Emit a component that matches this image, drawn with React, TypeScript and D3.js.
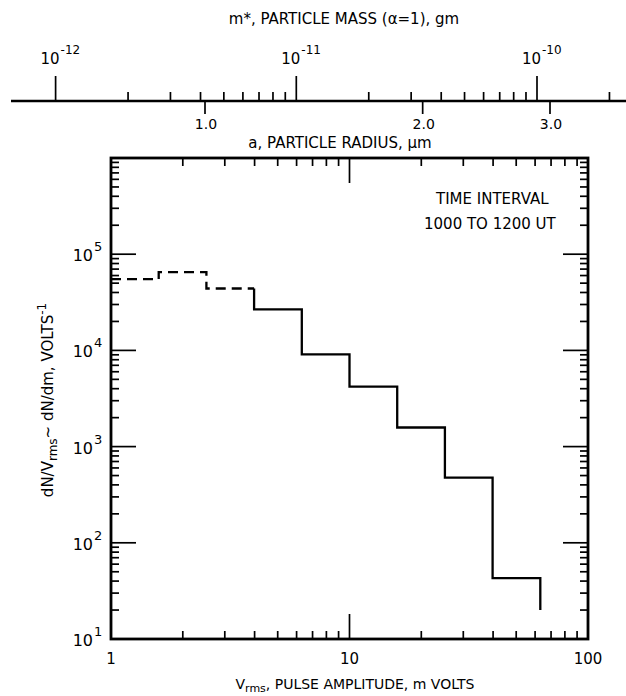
import React from 'react';
import * as d3 from 'd3';

// histogram bin edges (m volts) and heights (dN/Vrms, volts^-1)
const binEdges = [1, 1.585, 2.512, 3.981, 6.31, 10, 15.85, 25.12, 39.81, 63.1];
const binCounts = [5.5e4, 6.5e4, 4.4e4, 2.67e4, 9.1e3, 4.2e3, 1.58e3, 475, 43];
const dashedBins = 3; // first bins are drawn dashed
const lastDrop = 20; // where the final vertical stops

const xMajor = [1, 10, 100];
const xMajorLabels = ['1', '10', '100'];
const yMajor = [1e1, 1e2, 1e3, 1e4, 1e5, 1e6];
const yLabelExp = ['1', '2', '3', '4', '5'];

const massMajor = [1e-12, 1e-11, 1e-10];
const massLabelExp = ['-12', '-11', '-10'];
const radiusMajor = [1.0, 2.0, 3.0];
const radiusLabels = ['1.0', '2.0', '3.0'];

const FONT = '"DejaVu Sans", sans-serif';

export default function App() {
  const W = 626, H = 696;
  const left = 111, right = 588, top = 158, bottom = 639;

  const x = d3.scaleLog().domain([1, 100]).range([left, right]);
  const y = d3.scaleLog().domain([10, 1e6]).range([bottom, top]);

  // top auxiliary axis
  const axisY = 101;
  const mass = d3.scaleLog().domain([1e-12, 1e-10]).range([55.6, 537]);
  const radius = d3.scaleLog().domain([1, 3]).range([205, 550]);

  // minor ticks 2..9 in each decade
  const minors = (decades: number[]) => {
    const out: number[] = [];
    decades.forEach(d => { for (let m = 2; m <= 9; m++) out.push(m * d); });
    return out;
  };
  const xMinor = minors([1, 10]);
  const yMinor = minors([1e1, 1e2, 1e3, 1e4, 1e5]);
  const massMinor = minors([1e-12, 1e-11]).concat([2e-10]);

  const line = d3.line<[number, number]>().x(d => x(d[0])).y(d => y(d[1]));

  const dashedPts: [number, number][] = [];
  for (let i = 0; i < dashedBins; i++) {
    if (i > 0) dashedPts.push([binEdges[i], binCounts[i - 1]]);
    dashedPts.push([binEdges[i], binCounts[i]]);
    dashedPts.push([binEdges[i + 1], binCounts[i]]);
  }
  const solidPts: [number, number][] = [];
  for (let i = dashedBins; i < binCounts.length; i++) {
    solidPts.push([binEdges[i], binCounts[i - 1]]);
    solidPts.push([binEdges[i], binCounts[i]]);
    solidPts.push([binEdges[i + 1], binCounts[i]]);
  }
  solidPts.push([binEdges[binCounts.length], lastDrop]);

  const majLen = 25, minLen = 8;

  return (
    <svg width={W} height={H} style={{ position: 'absolute', left: 0, top: 0, background: '#fff' }}
      fontFamily={FONT} fill="#000">
      {/* ---------- top mass / radius axis ---------- */}
      <text x={344} y={24} fontSize={15} textAnchor="middle">m*, PARTICLE MASS (α=1), gm</text>
      <line x1={11} x2={626} y1={axisY} y2={axisY} stroke="#000" strokeWidth={2.6} />
      {massMajor.map((m, i) => (
        <g key={'mm' + i}>
          <line x1={mass(m)} x2={mass(m)} y1={axisY} y2={axisY - 25} stroke="#000" strokeWidth={1.7} />
          <text x={mass(m) + 4} y={64} fontSize={15} textAnchor="end">10</text>
          <text x={mass(m) + 5} y={54} fontSize={12}>{massLabelExp[i]}</text>
        </g>
      ))}
      {massMinor.map((m, i) => (
        <line key={'mn' + i} x1={mass(m)} x2={mass(m)} y1={axisY} y2={axisY - 9} stroke="#000" strokeWidth={1.7} />
      ))}
      {radiusMajor.map((r, i) => (
        <g key={'r' + i}>
          <line x1={radius(r)} x2={radius(r)} y1={axisY} y2={axisY + 13} stroke="#000" strokeWidth={1.7} />
          <text x={radius(r) + 1} y={129} fontSize={14} textAnchor="middle">{radiusLabels[i]}</text>
        </g>
      ))}
      <text x={340} y={148} fontSize={15} textAnchor="middle">a, PARTICLE RADIUS, μm</text>

      {/* ---------- frame ticks ---------- */}
      {xMajor.slice(1, 2).map((v, i) => (
        <g key={'xM' + i}>
          <line x1={x(v)} x2={x(v)} y1={bottom} y2={bottom - majLen} stroke="#000" strokeWidth={1.7} />
          <line x1={x(v)} x2={x(v)} y1={top} y2={top + majLen} stroke="#000" strokeWidth={1.7} />
        </g>
      ))}
      {xMinor.map((v, i) => (
        <g key={'xm' + i}>
          <line x1={x(v)} x2={x(v)} y1={bottom} y2={bottom - minLen} stroke="#000" strokeWidth={1.7} />
          <line x1={x(v)} x2={x(v)} y1={top} y2={top + minLen} stroke="#000" strokeWidth={1.7} />
        </g>
      ))}
      {yMajor.slice(1, -1).map((v, i) => (
        <g key={'yM' + i}>
          <line x1={left} x2={left + majLen} y1={y(v)} y2={y(v)} stroke="#000" strokeWidth={1.7} />
          <line x1={right} x2={right - majLen} y1={y(v)} y2={y(v)} stroke="#000" strokeWidth={1.7} />
        </g>
      ))}
      {yMinor.map((v, i) => (
        <g key={'ym' + i}>
          <line x1={left} x2={left + minLen} y1={y(v)} y2={y(v)} stroke="#000" strokeWidth={1.7} />
          <line x1={right} x2={right - minLen} y1={y(v)} y2={y(v)} stroke="#000" strokeWidth={1.7} />
        </g>
      ))}
      <rect x={left} y={top} width={right - left} height={bottom - top} fill="none" stroke="#000" strokeWidth={2.8} />

      {/* ---------- tick labels ---------- */}
      {xMajor.map((v, i) => (
        <text key={'xl' + i} x={x(v)} y={664} fontSize={15} textAnchor="middle">{xMajorLabels[i]}</text>
      ))}
      {yMajor.slice(0, 5).map((v, i) => (
        <g key={'yl' + i}>
          <text x={93} y={y(v) + 7} fontSize={16} textAnchor="end">10</text>
          <text x={94} y={y(v) - 3} fontSize={13}>{yLabelExp[i]}</text>
        </g>
      ))}

      {/* ---------- histogram ---------- */}
      <path d={line(dashedPts) || ''} fill="none" stroke="#000" strokeWidth={2.3} strokeDasharray="10,6" />
      <path d={line(solidPts) || ''} fill="none" stroke="#000" strokeWidth={2.3} />

      {/* ---------- annotation ---------- */}
      <text x={436} y={204} fontSize={15}>TIME INTERVAL</text>
      <text x={424} y={229} fontSize={15}>1000 TO 1200 UT</text>

      {/* ---------- axis titles ---------- */}
      <text x={355} y={689} fontSize={14} textAnchor="middle">
        V<tspan fontSize={11} dy={3}>rms</tspan><tspan dy={-3}>, PULSE AMPLITUDE, m VOLTS</tspan>
      </text>
      <text transform="translate(53,400) rotate(-90)" fontSize={15} textAnchor="middle">
        dN/V<tspan fontSize={12} dy={4}>rms</tspan><tspan dy={-4}>~ dN/dm, VOLTS</tspan>
        <tspan fontSize={12} dy={-7}>-1</tspan>
      </text>
    </svg>
  );
}
